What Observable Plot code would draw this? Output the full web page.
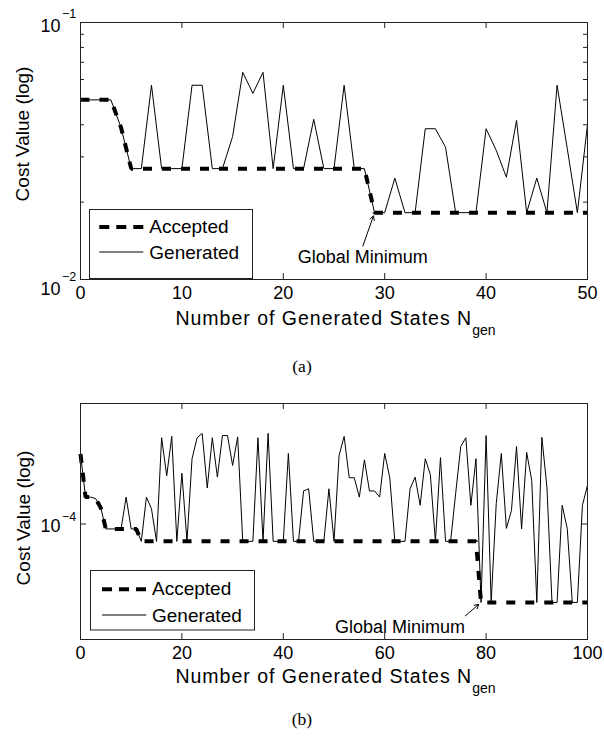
<!DOCTYPE html>
<html><head><meta charset="utf-8">
<script src="https://cdn.jsdelivr.net/npm/d3@7"></script>
<script src="https://cdn.jsdelivr.net/npm/@observablehq/plot@0.6"></script>
<style>
body{margin:0;background:#fff;}
#wrap{position:relative;width:604px;height:736px;background:#fff;overflow:hidden}
#wrap svg{position:absolute;left:0}
</style></head><body><div id="wrap"></div>
<script>
// ---- data: panel (a) ----
const genA = [0.05,0.05,0.05,0.05,0.039,0.027,0.027,0.057,0.027,0.027,
  0.027,0.057,0.057,0.027,0.027,0.036,0.064,0.053,0.064,0.027,
  0.057,0.027,0.027,0.042,0.027,0.027,0.057,0.027,0.027,0.0182,
  0.0182,0.0248,0.0182,0.0182,0.0386,0.0386,0.0327,0.0182,0.0182,0.0182,
  0.0386,0.0318,0.025,0.0416,0.0182,0.0248,0.0182,0.057,0.0324,0.0182,
  0.040];
const accA = [0.05,0.05,0.05,0.05,0.039,0.027,0.027,0.027,0.027,0.027,
  0.027,0.027,0.027,0.027,0.027,0.027,0.027,0.027,0.027,0.027,
  0.027,0.027,0.027,0.027,0.027,0.027,0.027,0.027,0.027,0.0182,
  0.0182,0.0182,0.0182,0.0182,0.0182,0.0182,0.0182,0.0182,0.0182,0.0182,
  0.0182,0.0182,0.0182,0.0182,0.0182,0.0182,0.0182,0.0182,0.0182,0.0182,
  0.0182];
// ---- data: panel (b) ----
const genB = [1.98e-4,1.30e-4,1.30e-4,1.28e-4,1.17e-4,9.53e-5,9.53e-5,9.53e-5,9.53e-5,1.30e-4,
  9.53e-5,9.53e-5,8.44e-5,1.30e-4,1.16e-4,8.44e-5,2.32e-4,1.60e-4,2.35e-4,8.44e-5,
  1.64e-4,8.44e-5,1.89e-4,2.32e-4,2.42e-4,1.42e-4,2.32e-4,1.58e-4,2.37e-4,2.37e-4,
  1.77e-4,2.34e-4,8.44e-5,8.44e-5,8.44e-5,2.32e-4,8.44e-5,2.42e-4,8.44e-5,8.44e-5,
  8.44e-5,1.99e-4,8.44e-5,8.44e-5,1.38e-4,1.41e-4,8.44e-5,8.44e-5,8.44e-5,1.41e-4,
  8.44e-5,1.95e-4,2.35e-4,1.57e-4,1.57e-4,1.30e-4,1.87e-4,1.38e-4,1.38e-4,1.30e-4,
  1.99e-4,1.57e-4,8.44e-5,8.44e-5,8.44e-5,1.41e-4,1.58e-4,1.20e-4,1.89e-4,1.62e-4,
  8.44e-5,1.91e-4,8.44e-5,8.44e-5,1.35e-4,2.13e-4,2.32e-4,1.20e-4,1.89e-4,4.65e-5,
  2.37e-4,4.65e-5,1.22e-4,1.99e-4,9.58e-5,1.14e-4,2.13e-4,9.53e-5,2.01e-4,1.53e-4,
  4.65e-5,2.33e-4,1.43e-4,4.65e-5,4.65e-5,1.20e-4,9.58e-5,4.65e-5,4.65e-5,1.20e-4,
  1.46e-4];
const accB = [1.98e-4,1.30e-4,1.30e-4,1.28e-4,1.17e-4,9.53e-5,9.53e-5,9.53e-5,9.53e-5,9.53e-5,
  9.53e-5,9.53e-5,8.44e-5,8.44e-5,8.44e-5,8.44e-5,8.44e-5,8.44e-5,8.44e-5,8.44e-5,
  8.44e-5,8.44e-5,8.44e-5,8.44e-5,8.44e-5,8.44e-5,8.44e-5,8.44e-5,8.44e-5,8.44e-5,
  8.44e-5,8.44e-5,8.44e-5,8.44e-5,8.44e-5,8.44e-5,8.44e-5,8.44e-5,8.44e-5,8.44e-5,
  8.44e-5,8.44e-5,8.44e-5,8.44e-5,8.44e-5,8.44e-5,8.44e-5,8.44e-5,8.44e-5,8.44e-5,
  8.44e-5,8.44e-5,8.44e-5,8.44e-5,8.44e-5,8.44e-5,8.44e-5,8.44e-5,8.44e-5,8.44e-5,
  8.44e-5,8.44e-5,8.44e-5,8.44e-5,8.44e-5,8.44e-5,8.44e-5,8.44e-5,8.44e-5,8.44e-5,
  8.44e-5,8.44e-5,8.44e-5,8.44e-5,8.44e-5,8.44e-5,8.44e-5,8.44e-5,8.44e-5,4.65e-5,
  4.65e-5,4.65e-5,4.65e-5,4.65e-5,4.65e-5,4.65e-5,4.65e-5,4.65e-5,4.65e-5,4.65e-5,
  4.65e-5,4.65e-5,4.65e-5,4.65e-5,4.65e-5,4.65e-5,4.65e-5,4.65e-5,4.65e-5,4.65e-5,
  4.65e-5];
// ---- ticks & labels ----
const xTicksA = [0,10,20,30,40,50];
const xTicksB = [0,20,40,60,80,100];
const yMajorA = [0.01,0.1];
const yMinorA = [0.02,0.03,0.04,0.05,0.06,0.07,0.08,0.09];
const yMajorB = [1e-4];
const yExpA = ["\u22122","\u22121"];
const yExpB = ["\u22124"];
const legendLabels = ["Accepted","Generated"];
const noteText = "Global Minimum";
const yLabel = "Cost Value (log)";
const xLabel = "Number of Generated States N";
const xLabelSub = "gen";
const captions = ["(a)","(b)"];

const FONT = "Liberation Sans, Arial, Helvetica, sans-serif";
const INK = "#000";

function panel(o){
  const fw = 604 - 80 - 17;
  const fh = o.height - o.marginTop - 61;
  const T = 6, t = 4;
  const idx = (d,i)=>i;
  const marks = [
    Plot.line(o.acc, {x: idx, y: d=>d, stroke: INK, strokeWidth: 4, strokeDasharray: "9,10", strokeLinecap: "butt", strokeLinejoin: "miter"}),
    Plot.line(o.gen, {x: idx, y: d=>d, stroke: INK, strokeWidth: 1, strokeLinejoin: "miter"}),
    Plot.ruleX(o.xTicks, {x: d=>d, insetTop: fh - T, stroke: "#222"}),
    Plot.ruleX(o.xTicks, {x: d=>d, insetBottom: fh - T, stroke: "#222"}),
    Plot.ruleY(o.yMajor, {y: d=>d, insetRight: fw - T, stroke: "#222"}),
    Plot.ruleY(o.yMajor, {y: d=>d, insetLeft: fw - T, stroke: "#222"}),
    Plot.ruleY(o.yMinor, {y: d=>d, insetRight: fw - t, stroke: "#222"}),
    Plot.ruleY(o.yMinor, {y: d=>d, insetLeft: fw - t, stroke: "#222"}),
    Plot.frame({stroke: "#222"}),
    Plot.text(o.xTicks, {x: d=>d, text: d=>String(d), frameAnchor: "bottom", dy: 19, fontSize: 18, fontFamily: FONT, fill: INK}),
    Plot.text([noteText], {x: ()=>o.note.x, y: ()=>o.note.y, text: d=>d, fontSize: 18, fontFamily: FONT, fill: INK}),
    Plot.arrow([o.note], {x1: d=>d.x1, y1: d=>d.y1, x2: d=>d.x2, y2: d=>d.y2, stroke: INK, strokeWidth: 1, headLength: 7, insetEnd: o.note.inset})
  ];
  o.yMajor.forEach((v,i)=>{
    marks.push(Plot.text([v], {y: d=>d, text: ()=>"10", frameAnchor: "left", textAnchor: "end", dx: -20, dy: o.expDy[i][0], fontSize: 18, fontFamily: FONT, fill: INK}));
    marks.push(Plot.text([v], {y: d=>d, text: ()=>o.exp[i], frameAnchor: "left", textAnchor: "start", dx: -18.5, dy: o.expDy[i][1], fontSize: 12.5, fontFamily: FONT, fill: INK}));
  });
  const svg = Plot.plot({
    width: 604, height: o.height,
    marginLeft: 80, marginRight: 17, marginTop: o.marginTop, marginBottom: 61,
    x: {domain: o.xDomain, axis: null},
    y: {type: "log", domain: o.yDomain, axis: null},
    style: {background: "transparent", overflow: "visible"},
    marks
  });
  svg.style.top = o.top + "px";
  return svg;
}

const wrap = document.getElementById("wrap");
wrap.appendChild(panel({
  top: 0, height: 340, marginTop: 22,
  gen: genA, acc: accA, xDomain: [0,50], yDomain: [0.01,0.1],
  xTicks: xTicksA, yMajor: yMajorA, yMinor: yMinorA,
  exp: yExpA, expDy: [[10.2,-3],[4,-8.7]],
  note: {x: 27.83, y: 0.01224, x1: 27.85, y1: 0.0135, x2: 29, y2: accA[29], inset: 3.5}
}));
wrap.appendChild(panel({
  top: 380, height: 320, marginTop: 23,
  gen: genB, acc: accB, xDomain: [0,100], yDomain: [3.24e-5,3.24e-4],
  xTicks: xTicksB, yMajor: yMajorB, yMinor: [],
  exp: yExpB, expDy: [[2.6,-7.3]],
  note: {x: 63.0, y: 3.666e-5, x1: 75.9, y1: 4.08e-5, x2: 79, y2: accB[79], inset: 3}
}));

// ---- overlay: axis titles, legends, captions ----
function legend(x0,y0,w,h,dx1,dx2,yA,yG,tx,tA,tG){
  return `<rect x="${x0}" y="${y0}" width="${w}" height="${h}" fill="#fff" stroke="#222" stroke-width="1"/>
  <line x1="${dx1}" x2="${dx2}" y1="${yA}" y2="${yA}" stroke="#000" stroke-width="4" stroke-dasharray="10,7"/>
  <text x="${tx}" y="${tA}" font-size="19">${legendLabels[0]}</text>
  <line x1="${dx1}" x2="${dx2}" y1="${yG}" y2="${yG}" stroke="#000" stroke-width="1"/>
  <text x="${tx}" y="${tG}" font-size="19">${legendLabels[1]}</text>`;
}
function xTitle(base){
  return `<text x="175.4" y="${base}" font-size="19.5" letter-spacing="1">${xLabel}<tspan dy="9.5" font-size="14" letter-spacing="0">${xLabelSub}</tspan></text>`;
}
const ov = document.createElementNS("http://www.w3.org/2000/svg","svg");
ov.setAttribute("width",604); ov.setAttribute("height",736);
ov.style.top = "0px"; ov.style.pointerEvents = "none";
ov.setAttribute("font-family", FONT); ov.setAttribute("fill", "#000");
ov.innerHTML = `
  <text transform="translate(22,134) rotate(-90)" text-anchor="middle" dominant-baseline="central" font-size="19">${yLabel}</text>
  <text transform="translate(23,518) rotate(-90)" text-anchor="middle" dominant-baseline="central" font-size="19">${yLabel}</text>
  ${xTitle(325)}
  ${xTitle(683)}
  ${legend(89.5,209.5,163,69,99.3,143.3,227,252,149.3,232.7,259.3)}
  ${legend(90.5,570.5,164,59.5,102,146.3,589.3,615,152,595,621.7)}
  <text x="302" y="371.5" text-anchor="middle" font-size="17.5" font-family="Liberation Serif, Times New Roman, serif">${captions[0]}</text>
  <text x="302" y="725" text-anchor="middle" font-size="17.5" font-family="Liberation Serif, Times New Roman, serif">${captions[1]}</text>
`;
wrap.appendChild(ov);
</script></body></html>
